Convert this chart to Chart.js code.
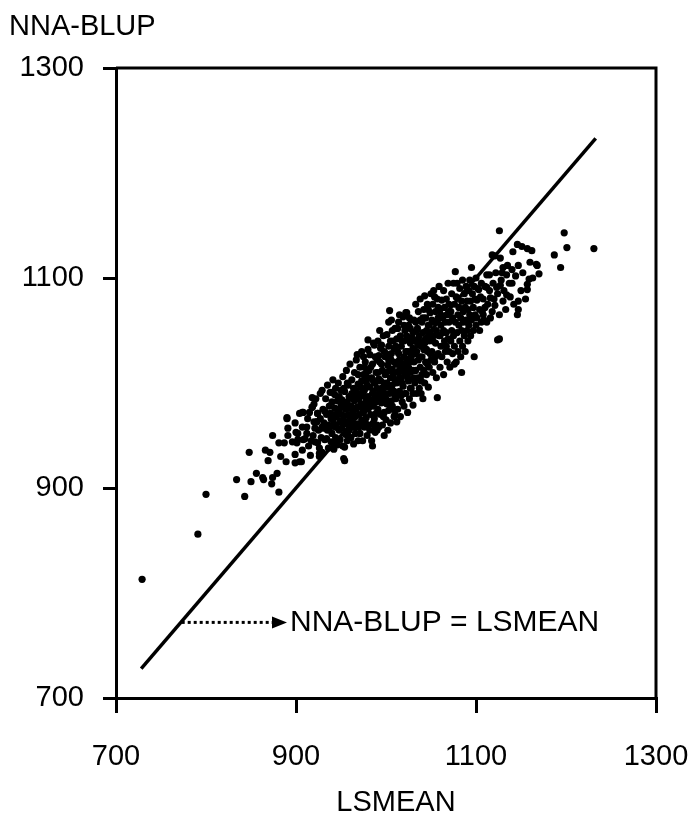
<!DOCTYPE html>
<html>
<head>
<meta charset="utf-8">
<script src="https://cdn.jsdelivr.net/npm/chart.js@4.4.0/dist/chart.umd.min.js"></script>
<style>
  html, body { margin: 0; padding: 0; background: #fff; }
  #wrap { width: 690px; height: 814px; }
</style>
</head>
<body>
<div id="wrap"><canvas id="myChart" width="690" height="814"></canvas></div>
<script>
// axis ticks and titles
const xTicks = [700, 900, 1100, 1300];
const yTicks = [700, 900, 1100, 1300];
const xTitle = 'LSMEAN';
const yTitle = 'NNA-BLUP';

// identity line NNA-BLUP = LSMEAN, end points (LSMEAN)
const identityLine = [728, 1233];
const lineLabel = 'NNA-BLUP = LSMEAN';
const arrowStart = [773, 772];
const arrowEnd = [890, 772];

// [LSMEAN, NNA-BLUP]
const points = [
  [729,813],[791,856],[800,894],
  [834,908],[843,892],[848,934],[850,906],[856,914],[863,910],[864,908],[866,936],[871,934],[869,926],
  [874,950],[874,910],[879,914],[873,904],[881,896],[883,930],[889,925],[881,943],[887,943],[890,967],
  [891,957],[891,950],[896,944],[899,962],[900,953],[902,946],[901,943],[904,971],[908,972],[907,958],
  [907,936],[904,925],[899,924],[906,925],[899,932],[912,952],[910,947],[902,952],[908,946],[890,966],
  [907,972],
  [918,977],[924,971],[923,963],[924,943],[929,934],[926,933],[934,947],[938,958],[929,958],[921,957],
  [941,965],[949,963],[946,971],[938,971],[954,939],[954,926],[958,949],[966,952],[960,960],[988,957],
  [918,986],[929,993],[968,1027],[980,1041],[986,1038],[1001,1046],[990,955],[1030,979],
  [912,958],[914,940],[915,972],[916,931],[918,977],[919,950],[920,963],[921,944],[922,985],[923,963],
  [924,971],[925,955],[926,930],[927,990],[927,966],[928,948],[930,975],[930,957],[913,966],[917,945],
  [920,980],[926,938],
  [931,962],[932,946],[933,985],[934,970],[935,998],[935,955],[936,938],[937,978],[938,991],[939,966],
  [939,944],[940,982],[940,952],[941,1003],[941,970],[942,937],[942,961],[943,989],[943,976],[944,948],
  [944,995],[945,958],[945,968],[946,983],[946,941],[947,972],[947,1000],[948,955],[948,987],[949,946],
  [949,964],[950,978],[950,993],[932,973],[936,960],[940,991],[944,958],[948,975],
  [951,957],[951,984],[952,940],[952,1006],[953,928],[953,968],[954,992],[955,975],[955,951],[956,1012],
  [956,963],[957,982],[957,945],[958,998],[958,970],[959,955],[959,987],[960,1018],[960,966],[961,948],
  [961,978],[962,1003],[962,990],[963,958],[963,972],[964,942],[964,995],[965,983],[965,1010],[966,968],
  [967,988],[967,1022],[968,961],[968,977],[969,999],[969,945],[970,985],[970,970],[951,970],[953,995],
  [955,961],[957,1000],[959,976],[961,962],[963,985],[965,958],[967,975],[969,1008],[954,980],[958,950],
  [962,970],[966,993],[970,958],
  [971,1015],[971,952],[972,980],[972,996],[973,965],[973,1030],[974,988],[974,945],[975,1008],[975,972],
  [976,958],[976,993],[977,1020],[977,981],[978,967],[978,1002],[979,950],[980,987],[980,975],[981,1012],
  [981,960],[982,996],[982,1027],[983,970],[983,984],[984,945],[984,1005],[985,990],[985,1018],[986,962],
  [986,978],[987,1000],[987,1036],[988,953],[988,985],[989,1010],[989,971],[990,995],[990,1022],[971,990],
  [972,960],[973,1002],[974,976],[975,992],[976,1015],[977,962],[978,985],[979,998],[980,1005],[981,977],
  [982,955],[983,1015],[984,980],[985,1003],[986,992],[987,966],[988,1025],[989,982],[990,960],[980,1032],
  [975,1025],[985,940],[978,1010],[988,1000],
  [991,975],[991,1040],[992,1004],[992,958],[993,988],[993,1020],[994,970],[994,1033],[995,995],[995,981],
  [996,1012],[996,960],[997,1045],[997,985],[998,1000],[998,972],[999,1025],[999,990],[1000,965],[1000,1010],
  [1001,980],[1002,996],[1002,1017],[1003,974],[1003,1035],[1004,1069],[1004,990],[1005,1005],[1005,962],
  [1006,1028],[1006,983],[1007,1013],[1007,998],[1008,1040],[1008,975],[1009,1020],[1009,992],[1010,1003],
  [1010,1052],[991,1010],[992,985],[993,1050],[994,1002],[995,1018],[996,992],[997,968],[998,1030],[999,1008],
  [1000,985],[1001,1000],[1002,955],[1003,1022],[1004,1012],[1005,1040],[1006,995],[1007,978],[1008,1008],
  [1009,1033],[1010,988],[995,1036],[1000,1028],[1005,1023],[1010,970],[998,950],[1003,1058],[1007,1050],
  [992,1026],[1006,1060],[1009,968],
  [1011,1018],[1011,985],[1012,1042],[1012,1000],[1013,975],[1013,1030],[1014,1010],[1014,1058],[1015,992],
  [1015,1022],[1016,968],[1016,1045],[1017,1005],[1017,1035],[1018,982],[1018,1015],[1019,1063],[1019,997],
  [1020,1025],[1020,978],[1021,1050],[1021,1008],[1022,1067],[1022,990],[1023,1030],[1023,1018],[1024,972],
  [1024,1042],[1025,1002],[1025,1055],[1026,985],[1026,1020],[1027,1038],[1027,1010],[1028,995],[1028,1060],
  [1029,1027],[1030,1048],[1030,1012],[1011,1035],[1012,963],[1013,1052],[1014,1028],[1015,1005],
  [1016,1020],[1017,988],[1018,1040],[1019,1012],[1020,1055],[1021,990],[1022,1030],[1023,1045],[1024,1005],
  [1025,1030],[1026,1062],[1027,995],[1028,1022],[1029,1043],[1030,990],[1023,1067],[1015,1065],[1020,1040],
  [1025,1015],[1018,1000],[1013,1018],[1027,1052],[1022,1012],[1030,1033],
  [1031,1060],[1031,1020],[1032,1000],[1032,1040],[1033,1075],[1033,1012],[1034,990],[1034,1030],[1035,1052],
  [1035,1005],[1036,1068],[1036,1022],[1037,995],[1037,1045],[1038,1015],[1038,1080],[1039,1035],[1039,1002],
  [1040,1058],[1040,1025],[1041,985],[1041,1048],[1042,1012],[1042,1070],[1043,1038],[1043,1000],[1044,1062],
  [1044,1020],[1045,1050],[1045,1008],[1046,1075],[1046,1030],[1047,996],[1047,1055],[1048,1040],[1048,1015],
  [1049,1067],[1049,1028],[1050,1085],[1050,1045],[1032,1028],[1034,1050],[1036,1042],[1038,1060],[1040,1008],
  [1042,1032],[1044,1042],[1046,1018],[1048,1055],[1050,1022],[1033,1058],[1037,1025],[1041,1062],[1045,1032],
  [1049,1048],[1043,1083],[1039,990],[1035,1038],[1047,1070],[1031,1005],
  [1051,1060],[1051,1030],[1052,1075],[1052,1010],[1053,1045],[1053,1088],[1054,1020],[1054,1058],[1055,1038],
  [1055,1068],[1056,1005],[1056,1050],[1057,986],[1057,1080],[1058,1028],[1058,1062],[1059,1045],[1059,1092],
  [1060,1015],[1060,1070],[1061,1055],[1061,1035],[1062,1079],[1062,1025],[1063,1062],[1063,1048],[1064,1008],
  [1064,1088],[1065,1040],[1065,1072],[1066,1058],[1066,1030],[1067,1080],[1067,1048],[1068,1020],[1068,1065],
  [1069,1095],[1069,1042],[1070,1058],[1070,1030],[1071,1015],[1052,1040],[1055,1025],[1058,1072],[1061,1065],
  [1064,1050],[1067,1035],[1070,1075],[1054,1082],[1060,1045],
  [1072,1068],[1072,1040],[1073,1085],[1073,1050],[1074,1028],[1074,1062],[1075,1095],[1075,1045],[1076,1075],
  [1076,1035],[1077,1106],[1077,1058],[1078,1020],[1078,1082],[1079,1095],[1079,1048],[1080,1065],[1080,1030],
  [1081,1072],[1081,1055],[1082,1090],[1082,1040],[1083,1062],[1083,1025],[1084,1078],[1084,1050],[1085,1098],
  [1085,1035],[1086,1068],[1086,1058],[1087,1045],[1087,1085],[1088,1030],[1088,1072],[1089,1060],[1089,1092],
  [1090,1050],[1090,1078],[1076,1018],[1084,1010],
  [1091,1070],[1091,1040],[1092,1088],[1092,1055],[1093,1065],[1093,1098],[1094,1045],[1094,1078],[1095,1060],
  [1095,1110],[1096,1085],[1097,1072],[1097,1050],[1098,1025],[1098,1092],[1099,1065],[1099,1080],[1100,1055],
  [1100,1100],[1101,1079],[1101,1062],[1102,1090],[1103,1089],[1104,1050],[1104,1070],[1105,1082],[1106,1058],
  [1106,1095],[1107,1068],[1108,1065],[1108,1080],[1109,1060],[1110,1092],[1110,1072],
  [1112,1103],[1115,1103],[1112,1091],[1121,1121],[1127,1119],[1127,1093],[1123,1091],[1126,1145],[1130,1110],
  [1129,1105],[1134,1103],[1140,1108],[1137,1095],[1134,1084],[1130,1078],[1141,1125],[1146,1132],[1151,1130],
  [1157,1128],[1162,1126],[1147,1112],[1167,1113],[1170,1104],[1163,1100],[1159,1099],[1157,1094],[1157,1089],
  [1147,1078],[1147,1070],[1146,1065],[1187,1122],[1194,1110],[1198,1143],[1201,1129],[1231,1128],
  [1116,1081],[1121,1074],[1118,1068],[1112,1058],[1118,1122],[1168,1112],[1126,1042],[1124,1041],
  [1113,1075],[1115,1088],[1116,1062],[1119,1095],[1120,1080],[1122,1105],[1124,1085],[1126,1065],[1128,1098],
  [1131,1088],[1133,1070],[1135,1112],[1138,1082],[1140,1095],[1142,1075],[1144,1102],[1150,1088],[1152,1105],
  [1155,1080],[1160,1115]
];

const font = { family: '"Liberation Sans", Arial, sans-serif', size: 29 };

const extras = {
  id: 'extras',
  afterDatasetsDraw(chart) {
    const { ctx, chartArea: a, scales: { x, y } } = chart;
    ctx.save();
    ctx.strokeStyle = '#000';
    ctx.fillStyle = '#000';
    ctx.lineWidth = 3;
    // top and right frame
    ctx.beginPath();
    ctx.moveTo(a.left, a.top);
    ctx.lineTo(a.right, a.top);
    ctx.lineTo(a.right, a.bottom);
    ctx.stroke();

    // dotted arrow to the label
    const x0 = x.getPixelForValue(arrowStart[0]), y0 = y.getPixelForValue(arrowStart[1]);
    const x1 = x.getPixelForValue(arrowEnd[0]), y1 = y.getPixelForValue(arrowEnd[1]);
    ctx.setLineDash([3, 3]);
    ctx.beginPath();
    ctx.moveTo(x0, y0);
    ctx.lineTo(x1 - 14, y1);
    ctx.stroke();
    ctx.setLineDash([]);
    ctx.beginPath();
    ctx.moveTo(x1, y1);
    ctx.lineTo(x1 - 15, y1 - 6);
    ctx.lineTo(x1 - 15, y1 + 6);
    ctx.closePath();
    ctx.fill();

    ctx.font = '30px ' + font.family;
    ctx.textBaseline = 'middle';
    ctx.textAlign = 'left';
    ctx.fillText(lineLabel, x1 + 3, y1);
    ctx.font = font.size + 'px ' + font.family;
    ctx.fillText(yTitle, 9, 27);
    ctx.textAlign = 'center';
    ctx.fillText(xTitle, 396, 803);
    ctx.restore();
  }
};

let ctx = document.getElementById('myChart').getContext('2d');
let myChart = new Chart(ctx, {
  type: 'scatter',
  data: {
    datasets: [{
      type: 'line',
      data: identityLine.map(v => ({ x: v, y: v })),
      borderColor: '#000',
      borderWidth: 3.5,
      pointRadius: 0,
      fill: false
    }, {
      data: points.map(p => ({ x: p[0], y: p[1] })),
      pointRadius: 3.6,
      pointBackgroundColor: '#000',
      pointBorderWidth: 0,
      borderWidth: 0
    }]
  },
  options: {
    responsive: false,
    animation: false,
    layout: { padding: { top: 68, right: 34, left: 0, bottom: 0 } },
    plugins: { legend: { display: false }, tooltip: { enabled: false } },
    scales: {
      x: {
        type: 'linear', min: 700, max: 1300,
        afterBuildTicks: s => { s.ticks = xTicks.map(v => ({ value: v })); },
        afterFit: s => { s.height = 116; s.paddingLeft = 0; s.paddingRight = 0; },
        grid: { drawOnChartArea: false, drawTicks: true, tickLength: 15, color: '#000', lineWidth: 3 },
        border: { display: true, color: '#000', width: 3 },
        ticks: { color: '#000', font: font, padding: 27, maxRotation: 0, callback: v => String(v) }
      },
      y: {
        type: 'linear', min: 700, max: 1300,
        afterBuildTicks: s => { s.ticks = yTicks.map(v => ({ value: v })); },
        afterFit: s => { s.width = 116; s.paddingTop = 0; s.paddingBottom = 0; },
        grid: { drawOnChartArea: false, drawTicks: true, tickLength: 13, color: '#000', lineWidth: 3 },
        border: { display: true, color: '#000', width: 3 },
        ticks: { color: '#000', font: font, padding: 19, callback: v => String(v) }
      }
    }
  },
  plugins: [extras]
});
</script>
</body>
</html>
